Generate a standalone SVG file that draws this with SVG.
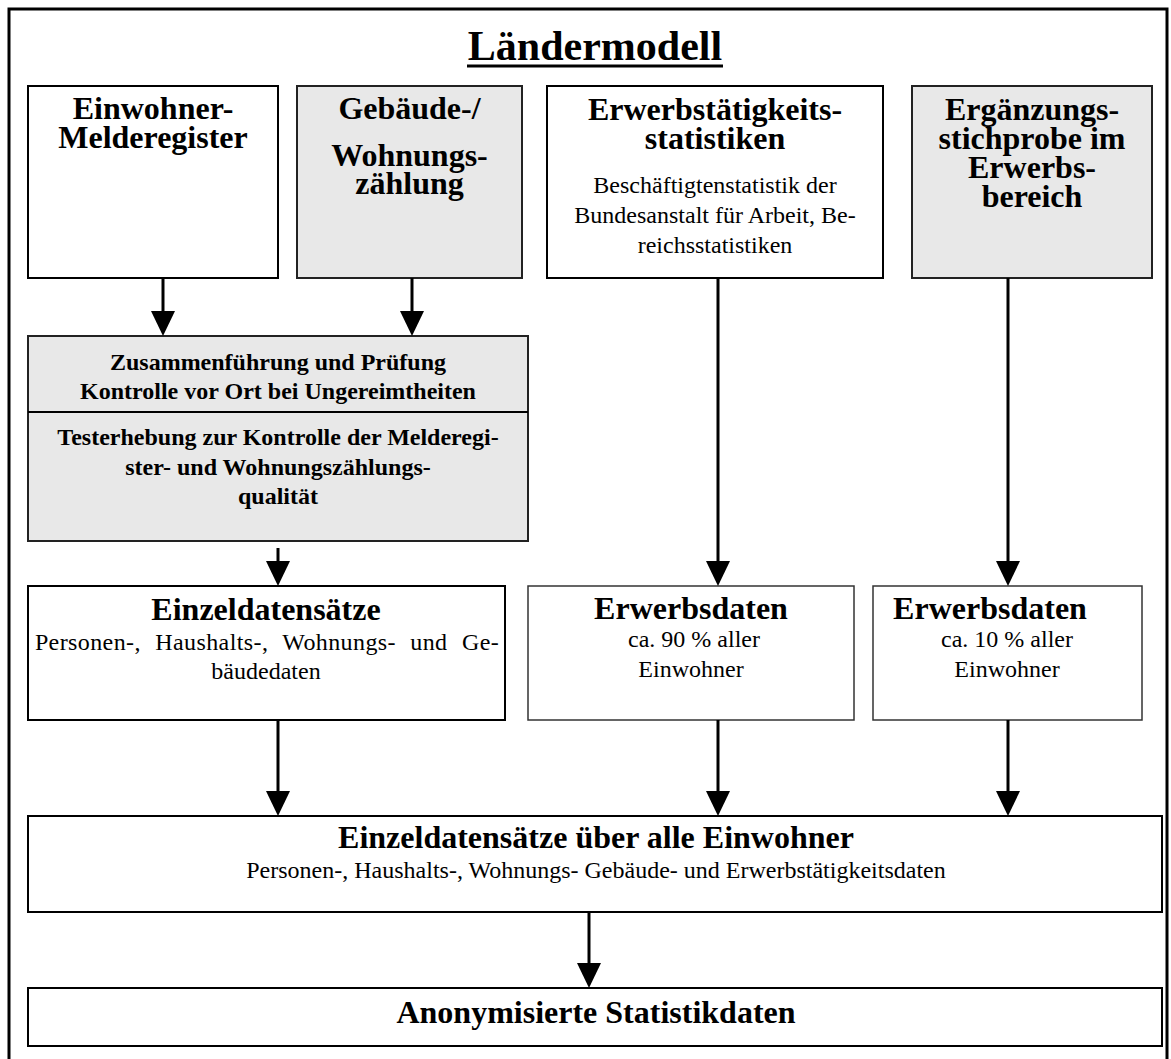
<svg xmlns="http://www.w3.org/2000/svg" width="1171" height="1059" viewBox="0 0 1171 1059">
<style>
text{font-family:"Liberation Serif","Times New Roman",serif;fill:#000;text-anchor:middle}
.h{font-size:32px;font-weight:bold}
.m{font-size:24px;font-weight:bold}
.b{font-size:24px}
.box{fill:#fff;stroke:#000;stroke-width:2}
.thin{fill:#fff;stroke:#333;stroke-width:1.5}
.grey{fill:#e8e8e8;stroke:#222;stroke-width:2}
.arr{stroke:#000;stroke-width:3;fill:none;marker-end:url(#ah)}
</style>
<defs>
<marker id="ah" viewBox="0 0 25 24" refX="0" refY="12" markerWidth="25" markerHeight="24" markerUnits="userSpaceOnUse" orient="auto">
<path d="M0,0 L25,12 L0,24 z" fill="#000"/>
</marker>
</defs>
<rect x="9" y="9" width="1158" height="1080" fill="#fff" stroke="#000" stroke-width="3"/>
<g id="title">
<text x="595" y="60" style="font-size:42px;font-weight:bold">Ländermodell</text>
<rect x="467" y="64.5" width="256" height="3" fill="#000"/>
</g>
<g id="einwohner">
<rect class="box" x="28" y="86" width="250" height="192"/>
<text class="h" x="153" y="119">Einwohner-</text>
<text class="h" x="153" y="148">Melderegister</text>
</g>
<g id="gebaeude">
<rect class="grey" x="297" y="86" width="225" height="192"/>
<text class="h" x="409.5" y="119">Gebäude-/</text>
<text class="h" x="409.5" y="166">Wohnungs-</text>
<text class="h" x="409.5" y="194">zählung</text>
</g>
<g id="erwerbstaetigkeit">
<rect class="box" x="547" y="86" width="336" height="192"/>
<text class="h" x="715" y="120">Erwerbstätigkeits-</text>
<text class="h" x="715" y="149">statistiken</text>
<text class="b" x="715" y="193">Beschäftigtenstatistik der</text>
<text class="b" x="715" y="223">Bundesanstalt für Arbeit, Be-</text>
<text class="b" x="715" y="253">reichsstatistiken</text>
</g>
<g id="ergaenzung">
<rect class="grey" x="912" y="86" width="240" height="192"/>
<text class="h" x="1032" y="120">Ergänzungs-</text>
<text class="h" x="1032" y="149">stichprobe im</text>
<text class="h" x="1032" y="178">Erwerbs-</text>
<text class="h" x="1032" y="207">bereich</text>
</g>
<g id="zusammenfuehrung">
<rect class="grey" x="28" y="336" width="500" height="205"/>
<line x1="28" y1="412" x2="528" y2="412" stroke="#000" stroke-width="2"/>
<text class="m" x="278" y="370">Zusammenführung und Prüfung</text>
<text class="m" x="278" y="399">Kontrolle vor Ort bei Ungereimtheiten</text>
<text class="m" x="278" y="445">Testerhebung zur Kontrolle der Melderegi-</text>
<text class="m" x="278" y="475">ster- und Wohnungszählungs-</text>
<text class="m" x="278" y="504">qualität</text>
</g>
<g id="einzeldatensaetze">
<rect class="box" x="28" y="586" width="477" height="134"/>
<text class="h" x="266" y="620">Einzeldatensätze</text>
<text class="b" x="267" y="650" word-spacing="8" letter-spacing="0.4">Personen-, Haushalts-, Wohnungs- und Ge-</text>
<text class="b" x="266" y="679">bäudedaten</text>
</g>
<g id="erwerbsdaten90">
<rect class="thin" x="528" y="586" width="326" height="134"/>
<text class="h" x="691" y="619">Erwerbsdaten</text>
<text class="b" x="694" y="647">ca. 90 % aller</text>
<text class="b" x="691" y="677">Einwohner</text>
</g>
<g id="erwerbsdaten10">
<rect class="thin" x="873" y="586" width="269" height="134"/>
<text class="h" x="990" y="619">Erwerbsdaten</text>
<text class="b" x="1007" y="647">ca. 10 % aller</text>
<text class="b" x="1007" y="677">Einwohner</text>
</g>
<g id="alle">
<rect class="box" x="28" y="816" width="1134" height="96"/>
<text class="h" x="596" y="848">Einzeldatensätze über alle Einwohner</text>
<text class="b" x="596" y="878">Personen-, Haushalts-, Wohnungs- Gebäude- und Erwerbstätigkeitsdaten</text>
</g>
<g id="anonym">
<rect class="box" x="28" y="988" width="1134" height="58"/>
<text class="h" x="596" y="1023">Anonymisierte Statistikdaten</text>
</g>
<g id="connectors">
<line class="arr" x1="163" y1="278" x2="163" y2="311"/>
<line class="arr" x1="412" y1="278" x2="412" y2="311"/>
<line class="arr" x1="278" y1="548" x2="278" y2="561"/>
<line class="arr" x1="718" y1="278" x2="718" y2="561"/>
<line class="arr" x1="1008" y1="278" x2="1008" y2="561"/>
<line class="arr" x1="278" y1="720" x2="278" y2="791"/>
<line class="arr" x1="718" y1="720" x2="718" y2="791"/>
<line class="arr" x1="1008" y1="720" x2="1008" y2="791"/>
<line class="arr" x1="589" y1="912" x2="589" y2="963"/>
</g>
</svg>
